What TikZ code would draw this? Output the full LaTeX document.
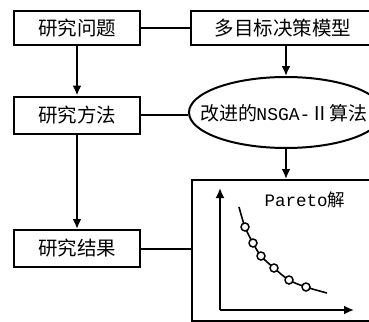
\documentclass[tikz,border=0pt]{standalone}
\usepackage{fontspec}
\setmainfont{Liberation Mono}
\newfontfamily\cjk{Noto Sans CJK SC}
\usetikzlibrary{shapes.geometric,arrows.meta}
\begin{document}
\begin{tikzpicture}[x=1pt,y=-1pt,
  box/.style={draw,line width=2pt,minimum height=35pt,inner sep=0pt,font=\cjk\fontsize{19.5}{22}\selectfont},
  arr/.style={line width=2pt,-{Latex[length=10pt,width=9pt]}},
  ln/.style={line width=2pt},
  pt/.style={circle,draw,fill=white,line width=1.5pt,minimum size=8pt,inner sep=0pt}]
\useasboundingbox (0,0) rectangle (369,321);
\begin{scope}
\clip (0,0) rectangle (369,321);
\node[box,minimum width=126pt,minimum height=34pt] (q) at (77,28) {研究问题};
\node[box,minimum width=190pt,minimum height=34pt] (m) at (286,28) {\hspace*{-6pt}多目标决策模型};
\node[box,minimum width=126pt,minimum height=37pt] (f) at (77,115) {研究方法};
\node[box,minimum width=126pt,minimum height=37pt] (r) at (77,248.5) {研究结果};
\node[draw,ellipse,line width=2pt,minimum width=194pt,minimum height=71pt,inner sep=0pt] (e) at (286,112.5) {};
\node[font=\fontsize{18}{20}\selectfont,inner sep=0pt] (et) at (284,113) {{\cjk\fontsize{19}{20}\selectfont 改进的}\kern-1pt NSGA-{\cjk\fontsize{19}{20}\selectfont Ⅱ算法}};
\node[draw,line width=2pt,minimum width=210pt,minimum height=141pt,inner sep=0pt,anchor=north west] (p) at (191,179) {};
\draw[ln] (q.east) -- (m.west);
\draw[arr] (q.south) -- (f.north);
\draw[arr] (m.south) -- (e.north);
\draw[ln] (f.east) -- (f.east -| e.west);
\draw[arr] (f.south) -- (r.north);
\draw[arr] (e.south) -- (e.south |- p.north);
\draw[ln] (r.east) -- (r.east -| p.west);
% plot
\coordinate (o) at (220,310);
\coordinate (ytop) at (220,188);
\coordinate (xend) at (354,310);
\draw[arr,line width=1.8pt] (o) -- (ytop);
\draw[arr,line width=1.8pt] (o) -- (xend);
\node[font=\fontsize{17.5}{20}\selectfont,inner sep=0pt] (pt0) at (305,200) {Pareto{\cjk 解}};
\draw[line width=1.6pt] plot[smooth,tension=0.6] coordinates {(239,207) (245,227) (253,243) (261,256) (274,268) (289,280) (306,287) (327,293)};
\foreach \p/\n in {{(245,227)}/a,{(253,243)}/b,{(261,256)}/c,{(274,268)}/d,{(289,280)}/g,{(306,287)}/h}
  \node[pt] (c\n) at \p {};
\end{scope}
\end{tikzpicture}
\end{document}
